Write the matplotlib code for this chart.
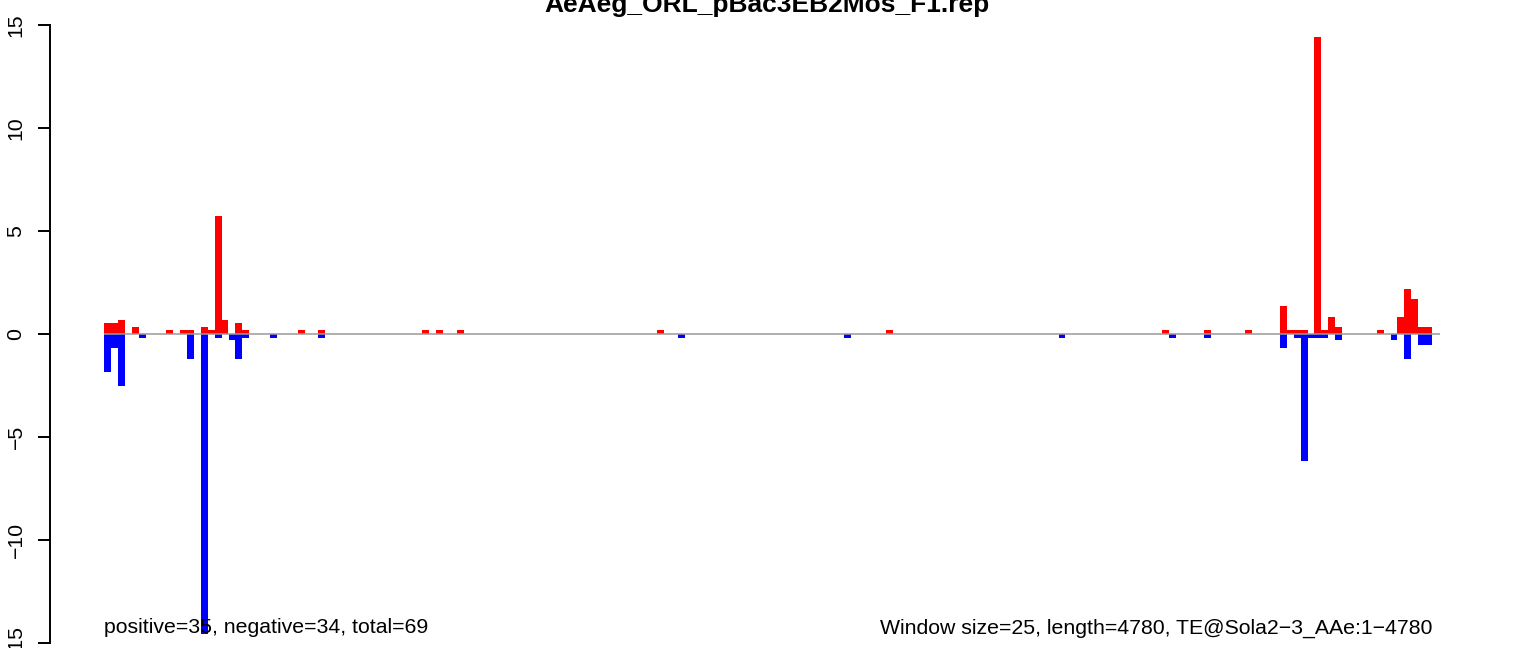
import matplotlib
matplotlib.use("Agg")
import matplotlib.pyplot as plt
from matplotlib.ticker import FixedLocator, FixedFormatter

plt.rcParams['font.family'] = ['Liberation Sans', 'DejaVu Sans']

title = "AeAeg_ORL_pBac3EB2Mos_F1.rep"
window_size = 25
te_length = 4780

# window index -> value (sense / red, positive)
pos_windows = [0, 1, 2, 4, 9, 11, 12, 14, 15, 16, 17, 19, 20, 28, 31, 46, 48, 51,
               80, 113, 153, 159, 165, 170, 171, 172, 173, 175, 176, 177, 178,
               184, 187, 188, 189, 190, 191]
pos_values = [0.52, 0.52, 0.67, 0.33, 0.18, 0.18, 0.18, 0.33, 0.18, 5.73, 0.67, 0.52,
              0.18, 0.18, 0.18, 0.18, 0.18, 0.18, 0.18, 0.18, 0.18, 0.18, 0.18,
              1.34, 0.18, 0.18, 0.18, 14.42, 0.18, 0.81, 0.33, 0.18, 0.81, 2.17,
              1.68, 0.33, 0.33]

# window index -> value (antisense / blue, negative)
neg_windows = [0, 1, 2, 5, 12, 14, 16, 18, 19, 20, 24, 31, 83, 107, 138, 154, 159,
               170, 172, 173, 174, 175, 176, 178, 186, 188, 190, 191]
neg_values = [-1.84, -0.67, -2.52, -0.19, -1.21, -14.56, -0.19, -0.33, -1.21, -0.19,
              -0.19, -0.19, -0.19, -0.19, -0.19, -0.19, -0.19, -0.67, -0.19, -6.2,
              -0.19, -0.19, -0.19, -0.33, -0.33, -1.21, -0.53, -0.53]

y_ticks = [-15, -10, -5, 0, 5, 10, 15]
y_tick_labels = ["\u221215", "\u221210", "\u22125", "0", "5", "10", "15"]

left_text = "positive=35, negative=34, total=69"
right_text = "Window size=25, length=4780, TE@Sola2\u22123_AAe:1\u22124780"

n_windows = 192
fig = plt.figure(figsize=(15.33, 6.48), dpi=100)
ax = fig.add_axes([50 / 1533, (648 - 642.7) / 648, 1436 / 1533, (642.7 - 24.7) / 648])

pos_x = [w * window_size for w in pos_windows]
neg_x = [w * window_size for w in neg_windows]
ax.bar(pos_x, pos_values, width=window_size, align='edge', color='#ff0000',
       linewidth=0, zorder=2)
ax.bar(neg_x, neg_values, width=window_size, align='edge', color='#0000ff',
       linewidth=0, zorder=2)
ax.hlines(0, 0, n_windows * window_size + 30, color='#9a9a9a', linewidth=1.1, zorder=3)

px_per_bp = (1432 - 104) / (n_windows * window_size)
ax.set_xlim(-54 / px_per_bp, n_windows * window_size + 54 / px_per_bp)
ax.set_ylim(-15, 15)

for s in ['top', 'right', 'bottom']:
    ax.spines[s].set_visible(False)
ax.spines['left'].set_bounds(-15, 15)
ax.spines['left'].set_linewidth(1.4)
ax.set_xticks([])
ax.yaxis.set_major_locator(FixedLocator(y_ticks))
ax.yaxis.set_major_formatter(FixedFormatter(y_tick_labels))
ax.tick_params(axis='y', length=8.6, width=1.4, pad=9, labelsize=15.3)
for lab in ax.get_yticklabels():
    lab.set_rotation(90)
    lab.set_va('center')

ax.text(0, -14.55, left_text, fontsize=15.3, ha='left', va='baseline')
ax.text(n_windows * window_size, -14.55, right_text, fontsize=15.3, ha='right',
        va='baseline')

fig.text(0.5, 1 - 12 / 648, title, fontsize=19.0, fontweight='bold', ha='center',
         va='baseline')

fig.savefig("out.png", dpi=100)
